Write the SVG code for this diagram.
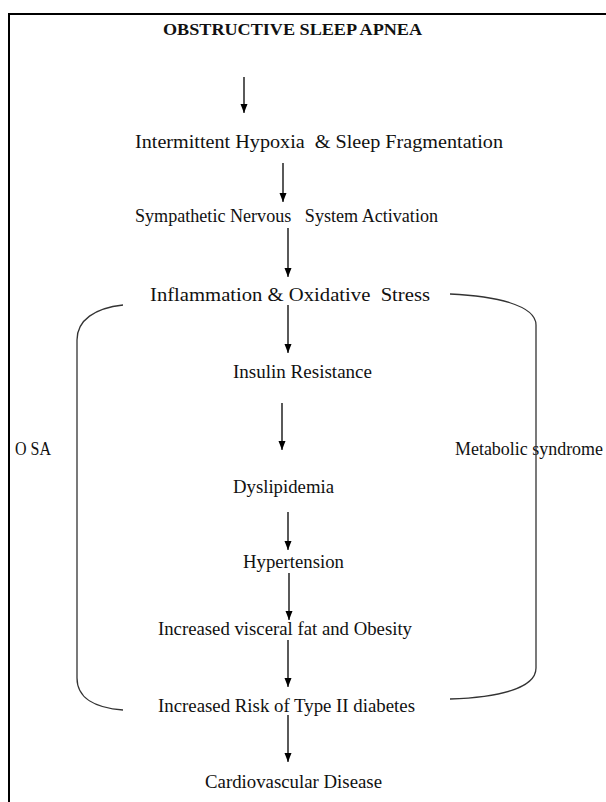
<svg xmlns="http://www.w3.org/2000/svg" width="606" height="802" viewBox="0 0 606 802">
<defs>
<marker id="ah" markerUnits="userSpaceOnUse" markerWidth="8" markerHeight="10" refX="9" refY="3.5" orient="auto">
<path d="M0,0 L9,3.5 L0,7 z" fill="#000"/>
</marker>
<style>
.t{font-family:"Liberation Serif","Times New Roman",serif;font-size:18px;fill:#111}
.b{font-weight:bold;font-size:16px}
.a{stroke:#000;stroke-width:1.3;fill:none;marker-end:url(#ah)}
.br{stroke:#333;stroke-width:1.3;fill:none}
</style>
</defs>
<rect width="606" height="802" fill="#fff"/>
<path d="M9,802 V14 H606" stroke="#000" stroke-width="2" fill="none"/>
<g id="n-title"><text class="t b" x="163" y="35" textLength="259" lengthAdjust="spacingAndGlyphs">OBSTRUCTIVE SLEEP APNEA</text></g>
<g id="n-hypoxia"><text class="t" x="135" y="148" xml:space="preserve" textLength="368" lengthAdjust="spacingAndGlyphs">Intermittent Hypoxia  &amp; Sleep Fragmentation</text></g>
<g id="n-sympathetic"><text class="t" x="135" y="222" xml:space="preserve" textLength="303" lengthAdjust="spacingAndGlyphs">Sympathetic Nervous   System Activation</text></g>
<g id="n-inflammation"><text class="t" x="150" y="301" xml:space="preserve" textLength="280" lengthAdjust="spacingAndGlyphs">Inflammation &amp; Oxidative  Stress</text></g>
<g id="n-insulin"><text class="t" x="233" y="378" textLength="139" lengthAdjust="spacingAndGlyphs">Insulin Resistance</text></g>
<g id="n-dyslipidemia"><text class="t" x="233" y="493" textLength="101" lengthAdjust="spacingAndGlyphs">Dyslipidemia</text></g>
<g id="n-hypertension"><text class="t" x="243" y="568" textLength="101" lengthAdjust="spacingAndGlyphs">Hypertension</text></g>
<g id="n-obesity"><text class="t" x="158" y="635" textLength="254" lengthAdjust="spacingAndGlyphs">Increased visceral fat and Obesity</text></g>
<g id="n-diabetes"><text class="t" x="158" y="712" textLength="257" lengthAdjust="spacingAndGlyphs">Increased Risk of Type II diabetes</text></g>
<g id="n-cvd"><text class="t" x="205" y="788" textLength="177" lengthAdjust="spacingAndGlyphs">Cardiovascular Disease</text></g>
<g id="n-osa"><text class="t" x="15" y="455" textLength="36" lengthAdjust="spacingAndGlyphs">O SA</text></g>
<g id="n-metabolic"><text class="t" x="455" y="455" textLength="148" lengthAdjust="spacingAndGlyphs">Metabolic syndrome</text></g>
<g id="connectors">
<line class="a" x1="244" y1="77" x2="244" y2="113"/>
<line class="a" x1="283" y1="163" x2="283" y2="202"/>
<line class="a" x1="288" y1="228" x2="288" y2="277"/>
<line class="a" x1="288" y1="305" x2="288" y2="353"/>
<line class="a" x1="282" y1="403" x2="282" y2="450"/>
<line class="a" x1="288" y1="512" x2="288" y2="550"/>
<line class="a" x1="289" y1="573" x2="289" y2="620"/>
<line class="a" x1="288" y1="640" x2="288" y2="687"/>
<line class="a" x1="288" y1="715" x2="288" y2="762"/>
<path class="br" d="M123,305 C95,308 77,320 77,340 V678 C77,698 95,708 123,710"/>
<path class="br" d="M450,294 C495,296 536,305 536,325 V668 C536,688 500,697 450,699"/>
</g>
</svg>
